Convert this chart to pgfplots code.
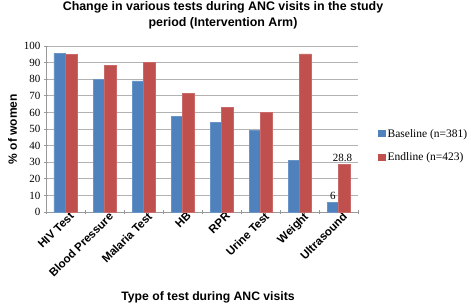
\documentclass[border=0pt]{standalone}
\usepackage{fontspec}
\setmainfont{Liberation Serif}
\newfontfamily\arial{Liberation Sans}
\usepackage{pgfplots}
\pgfplotsset{compat=1.18}
\definecolor{bblue}{HTML}{4F81BD}
\definecolor{bred}{HTML}{C0504D}
\begin{document}
\begin{tikzpicture}[x=1pt,y=1pt]
\useasboundingbox (0,0) rectangle (471,-303);
\node[font=\arial\bfseries\fontsize{12.4}{16}\selectfont, align=center] at (223,-15) {Change in various tests during ANC visits in the study\\period (Intervention Arm)};
\begin{axis}[
 at={(46pt,-212pt)}, anchor=south west,
 scale only axis, width=312pt, height=166pt,
 ybar=0pt, bar width=11.5pt,
 xmin=-0.5, xmax=7.5, ymin=0, ymax=100,
 ytick={0,10,...,100},
 xtick={0,...,7},
 xticklabels={HIV Test, Blood Pressure, Malaria Test, HB, RPR, Urine Test, Weight, Ultrasound},
 x tick label style={font=\arial\bfseries\fontsize{11.5}{12}\selectfont, rotate=45, anchor=north east, inner sep=0.5pt, xshift=5pt},
 y tick label style={font=\fontsize{11}{13}\selectfont},
 /pgf/number format/assume math mode=true,
 major x tick style={draw=none},
 minor xtick={-0.5,0.5,...,7.5},
 tick align=outside,
 major tick length=4pt, minor tick length=4pt,
 tick style={gray!80, line width=0.8pt},
 ymajorgrids, grid style={gray!60, line width=0.8pt},
 axis x line=bottom, axis y line=left,
 axis line style={-, gray!80, line width=0.8pt},
 ylabel={\% of women},
 ylabel style={font=\arial\bfseries\fontsize{12}{13}\selectfont},
 xlabel={Type of test during ANC visits},
 xlabel style={font=\arial\bfseries\fontsize{12.2}{13}\selectfont, at={(axis description cs:0.5,0)}, anchor=center, yshift=-85pt, xshift=6pt},
 legend style={at={(axis description cs:1.064,0.40)}, anchor=west, draw=none, fill=none, font=\fontsize{11.5}{13}\selectfont, row sep=10pt, inner sep=0pt},
 legend cell align=left,
 legend image code/.code={\path[#1,draw=none] (0pt,-3.5pt) rectangle (7.5pt,3.5pt);},
]
\addplot[fill=bblue, draw=bblue!85!white] coordinates {(0,95.5) (1,80) (2,79) (3,57.5) (4,54) (5,49.2) (6,31) (7,6)};
\addplot[fill=bred, draw=bred!85!white] coordinates {(0,95) (1,88.5) (2,90) (3,71.5) (4,63) (5,60.2) (6,95.2) (7,28.8)};
\legend{Baseline (n=381), Endline (n=423)}
\node[anchor=south, font=\fontsize{11}{13}\selectfont, xshift=4pt, inner sep=2pt] at (axis cs:7,28.8) {28.8};
\node[anchor=south, font=\fontsize{11}{13}\selectfont, xshift=-5.75pt, inner sep=2pt] at (axis cs:7,6) {6};
\end{axis}
\end{tikzpicture}
\end{document}
